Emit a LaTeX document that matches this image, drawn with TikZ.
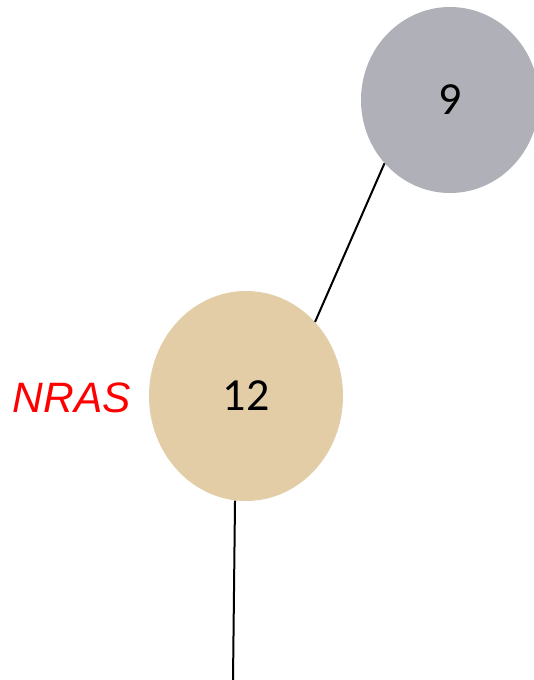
\documentclass[tikz,border=0pt]{standalone}
\usepackage{fontspec}
\setmainfont{Carlito}
\newfontfamily\arialfont{Liberation Sans}
\usetikzlibrary{shapes.geometric}
\definecolor{grayc}{HTML}{AFB0B8}
\definecolor{tanc}{HTML}{E2CDA7}
\tikzset{
  blob/.style={ellipse, draw=none, inner sep=0pt, font=\fontsize{46}{52}\selectfont},
  link/.style={line width=2pt, black}
}
\begin{document}
\begin{tikzpicture}[x=1pt,y=-1pt]
\useasboundingbox (0,0) rectangle (534,680);
\node[blob, fill=grayc, minimum width=178pt, minimum height=186pt] (n9) at (450,100) {9};
\node[blob, fill=tanc, minimum width=194pt, minimum height=210pt] (n12) at (246,396) {12};
\node[font=\arialfont\itshape\fontsize{42.5}{48}\selectfont, text=red, anchor=east, inner sep=0pt] (nras) at (131,398) {NRAS};
\coordinate (bottom) at (233,680);
\draw[link] (n12.47) -- (n9.224);
\draw[link] (n12.264) -- (bottom);
\end{tikzpicture}
\end{document}
